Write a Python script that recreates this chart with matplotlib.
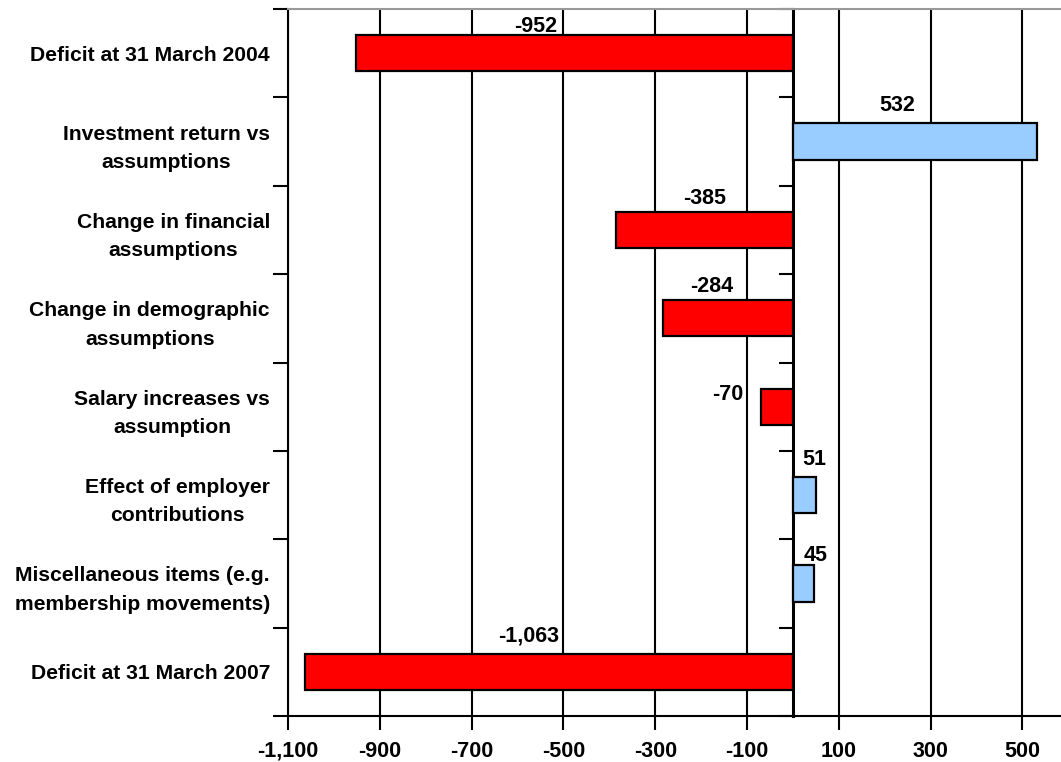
import numpy as np
from matplotlib import pyplot as plt

plt.rcParams['font.family'] = ['Liberation Sans', 'DejaVu Sans']
plt.rcParams['font.weight'] = 'bold'

categories = ["Deficit at 31 March 2004",
              "Investment return vs\nassumptions",
              "Change in financial\nassumptions",
              "Change in demographic\nassumptions",
              "Salary increases vs\nassumption",
              "Effect of employer\ncontributions",
              "Miscellaneous items (e.g.\nmembership movements)",
              "Deficit at 31 March 2007"]
values = [-952, 532, -385, -284, -70, 51, 45, -1063]
x_ticks = [-1100, -900, -700, -500, -300, -100, 100, 300, 500]

# hand tuned label nudges (pixels): dx from bar centre, gap above bar top
label_dx = [-39, -18, 0, -16, -49, 10, 12, -20]
label_gap = [-2, 7, 3, 3, -16, 7, -1, 7]

xmin, xmax = -1100, 584
bar_h = 0.41

fig = plt.figure(figsize=(10.61, 7.62), dpi=100)
ax = fig.add_axes([288/1061, 1 - 716/762, 1 - 288/1061, (716 - 9)/762])

y = np.arange(len(values))
colors = ['#ff0000' if v < 0 else '#99ccff' for v in values]
ax.barh(y, values, height=bar_h, color=colors, edgecolor='black', linewidth=1.6, zorder=3)

ax.set_xlim(xmin, xmax)
ax.set_ylim(len(values) - 0.5, -0.5)

ax.set_xticks(x_ticks)
ax.set_xticklabels([f"{t:,}" for t in x_ticks], fontsize=15.5, fontweight='bold')
ax.tick_params(axis='x', length=10, width=1.5, direction='out', pad=8)
ax.grid(axis='x', color='black', linewidth=1.5)
ax.set_axisbelow(True)

ax.set_yticks(y)
ax.set_yticklabels(categories, fontsize=15.2, fontweight='bold', linespacing=1.62,
                   multialignment='center')
ax.set_yticks(np.arange(len(values) + 1) - 0.5, minor=True)
ax.tick_params(axis='y', which='major', length=0, pad=13)
ax.tick_params(axis='y', which='minor', length=10.5, width=1.5, direction='out')

ax.spines['right'].set_visible(False)
ax.spines['top'].set_color('#999999')
ax.spines['top'].set_linewidth(1.5)
ax.spines['left'].set_linewidth(1.5)
ax.spines['bottom'].set_linewidth(1.5)

# the zero line with its own category ticks
zero_loc = (0 - xmin) / (xmax - xmin)
sec = ax.secondary_yaxis(zero_loc)
sec.set_yticks(np.arange(len(values) + 1) - 0.5)
sec.set_yticklabels([])
sec.tick_params(axis='y', length=10, width=1.5, direction='in')
for s in sec.spines.values():
    s.set_linewidth(2.2)

for i, v in enumerate(values):
    ax.annotate(f"{v:,}", xy=(v / 2, i - bar_h / 2), xytext=(label_dx[i], label_gap[i]),
                textcoords='offset pixels', ha='center', va='bottom',
                fontsize=15.5, fontweight='bold', zorder=5)

fig.savefig('out.png', dpi=100)
